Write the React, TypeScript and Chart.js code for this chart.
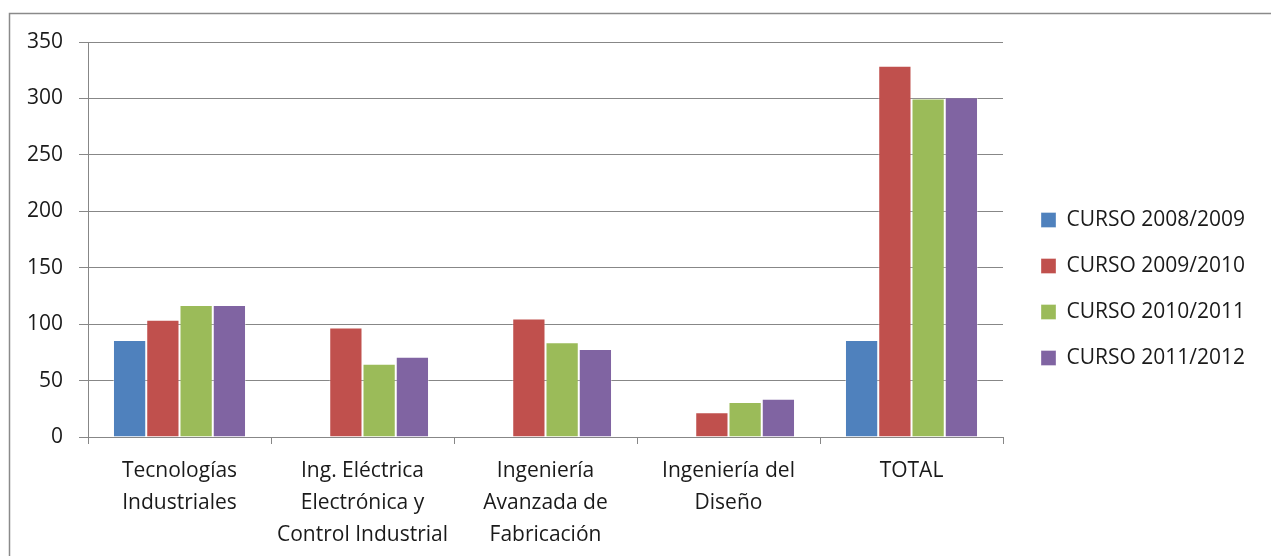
import React, { useEffect, useRef } from "react";
import { Chart, registerables } from "chart.js";

Chart.register(...registerables);

const categories: string[][] = [
  ["Tecnologías", "Industriales"],
  ["Ing. Eléctrica", "Electrónica y", "Control Industrial"],
  ["Ingeniería", "Avanzada de", "Fabricación"],
  ["Ingeniería del", "Diseño"],
  ["TOTAL"],
];

const seriesNames = ["CURSO 2008/2009", "CURSO 2009/2010", "CURSO 2010/2011", "CURSO 2011/2012"];
const curso0809: (number | null)[] = [86, null, null, null, 86];
const curso0910: (number | null)[] = [104, 97, 105, 22, 329];
const curso1011: (number | null)[] = [117, 65, 84, 31, 300];
const curso1112: (number | null)[] = [117, 71, 78, 34, 301];
const seriesColors = ["#4F81BD", "#C0504D", "#9BBB59", "#8064A2"];

const yTicks = { min: 0, max: 350, step: 50 };

const FONT = "'Open Sans', Lato, sans-serif";
const GRID = "#878787";

const framePlugin = {
  id: "frame",
  beforeDraw(chart: any) {
    const ctx = chart.ctx;
    ctx.save();
    ctx.fillStyle = "#ffffff";
    ctx.fillRect(0, 0, chart.width, chart.height);
    ctx.strokeStyle = "#8a8a8a";
    ctx.lineWidth = 1.5;
    ctx.beginPath();
    ctx.moveTo(chart.width + 5, 13.5);
    ctx.lineTo(9.5, 13.5);
    ctx.lineTo(9.5, chart.height + 5);
    ctx.stroke();
    ctx.restore();
  },
};

const legendShift = {
  id: "legendShift",
  afterLayout(chart: any) {
    const lg = chart.legend;
    if (lg) {
      lg.left += 13;
      lg.right = chart.width;
      lg.width = lg.right - lg.left;
      lg.top -= 10;
      lg.bottom -= 10;
    }
  },
};

export default function App() {
  const ref = useRef<HTMLCanvasElement | null>(null);
  useEffect(() => {
    if (!ref.current) return;
    const data = [curso0809, curso0910, curso1011, curso1112];
    const chart = new Chart(ref.current, {
      type: "bar",
      data: {
        labels: categories,
        datasets: seriesNames.map((name, i) => ({
          label: name,
          data: data[i],
          backgroundColor: seriesColors[i],
          borderColor: "rgba(255,255,255,0.35)",
          borderWidth: 1,
          categoryPercentage: 0.727,
          barPercentage: 1,
        })),
      },
      options: {
        animation: false,
        responsive: false,
        maintainAspectRatio: false,
        layout: { padding: { left: 0, top: 42, right: 68, bottom: 0 } },
        plugins: {
          tooltip: { enabled: false },
          legend: {
            position: "right",
            align: "center",
            maxWidth: 200,
            labels: {
              boxWidth: 15,
              boxHeight: 15,
              padding: 25,
              color: "#1a1a1a",
              font: { family: FONT, size: 21 },
            },
          },
        },
        scales: {
          x: {
            offset: true,
            grid: {
              offset: true,
              drawOnChartArea: false,
              drawTicks: true,
              tickLength: 7,
              color: GRID,
            },
            border: { color: GRID, width: 1 },
            ticks: {
              color: "#1a1a1a",
              padding: 11,
              maxRotation: 0,
              autoSkip: false,
              font: { family: FONT, size: 21, lineHeight: 1.52 },
            },
            afterFit(scale: any) {
              scale.height = 119;
            },
          },
          y: {
            min: yTicks.min,
            max: yTicks.max,
            grid: { color: GRID, tickLength: 9, drawTicks: true },
            border: { color: GRID, width: 1 },
            ticks: {
              stepSize: yTicks.step,
              color: "#1a1a1a",
              padding: 16,
              font: { family: FONT, size: 21 },
            },
            afterFit(scale: any) {
              scale.width = 88;
            },
          },
        },
      },
      plugins: [framePlugin, legendShift],
    });
    return () => chart.destroy();
  }, []);
  return (
    <div style={{ position: "fixed", left: 0, top: 0, width: 1271, height: 556 }}>
      <canvas ref={ref} width={1271} height={556} style={{ width: 1271, height: 556, display: "block" }} />
    </div>
  );
}
